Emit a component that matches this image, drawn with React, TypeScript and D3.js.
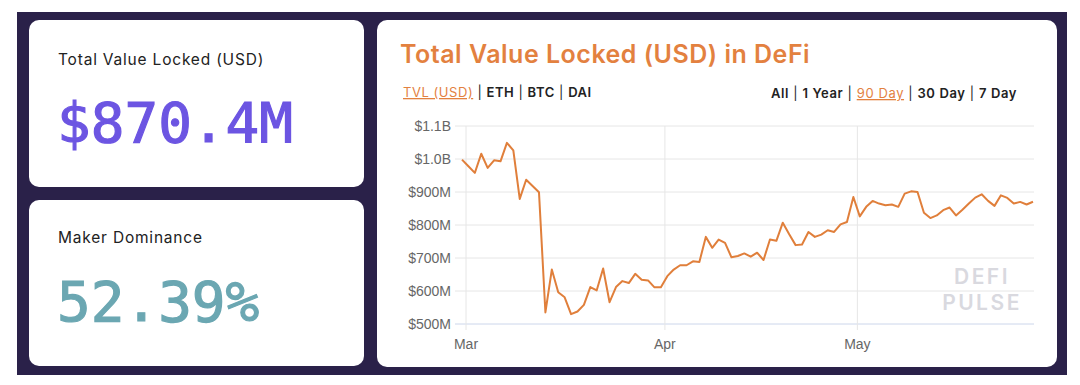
import React from 'react';
import * as d3 from 'd3';

// daily TVL in $M, 90 day view (late Feb -> late May 2020)
const firstDay = new Date(2020, 1, 29, 9);
const tvlValues = [
  998, 978, 958, 1016, 973, 996, 993, 1049, 1026, 879,
  937, 918, 899, 535, 665, 596, 581, 530, 538, 558,
  612, 602, 668, 566, 612, 630, 624, 652, 634, 632,
  611, 611, 645, 665, 678, 678, 690, 688, 764, 731,
  756, 746, 702, 706, 714, 704, 716, 694, 756, 752,
  807, 772, 739, 741, 779, 764, 771, 784, 779, 802,
  809, 885, 826, 855, 873, 865, 860, 862, 855, 895,
  902, 900, 837, 821, 829, 845, 853, 829, 846, 865,
  883, 893, 873, 858, 890, 882, 865, 870, 862, 870.4,
];
const yTicks = [500, 600, 700, 800, 900, 1000, 1100];
const monthTicks = [new Date(2020, 2, 1), new Date(2020, 3, 1), new Date(2020, 4, 1)];
const assetTabs = ['TVL (USD)', 'ETH', 'BTC', 'DAI'];
const rangeTabs = ['All', '1 Year', '90 Day', '30 Day', '7 Day'];
const activeAsset = 'TVL (USD)';
const activeRange = '90 Day';
const tvlHeadline = '$870.4M';
const makerDominance = '52.39%';

const ORANGE = '#e3813f';
const SANS = 'Inter, "Open Sans", sans-serif';
const MONO = '"DejaVu Sans Mono", monospace';
const AXIS_FONT = '"Liberation Sans", Arial, sans-serif';

export default function App() {
  const days = tvlValues.map((_, i) => d3.timeDay.offset(firstDay, i));
  const points = days.map((d, i) => ({ date: d, value: tvlValues[i] }));

  // plot area
  const left = 455, right = 1034, top = 126, bottom = 324;
  const x = d3.scaleTime()
    .domain([days[0], days[days.length - 1]])
    .range([462, 1033]);
  const y = d3.scaleLinear().domain([500, 1100]).range([bottom, top]);

  const line = d3.line<{ date: Date; value: number }>()
    .x(d => x(d.date))
    .y(d => y(d.value));

  const fmtY = (v: number) => (v >= 1000 ? '$' + d3.format('.1f')(v / 1000) + 'B' : '$' + v + 'M');
  const fmtMonth = d3.timeFormat('%b');

  const tabs = (items: string[], active: string) =>
    items.map((t, i) => (
      <React.Fragment key={t}>
        {i > 0 && <tspan fill="#222">{' | '}</tspan>}
        <tspan
          fill={t === active ? ORANGE : '#222'}
          fontWeight={t === active ? 400 : 600}
          style={t === active ? { textDecoration: 'underline' } : undefined}
        >
          {t}
        </tspan>
      </React.Fragment>
    ));

  return (
    <svg width={1080} height={385} style={{ position: 'absolute', left: 0, top: 0 }}>
      <rect width={1080} height={385} fill="#fff" />
      <rect x={17} y={12} width={1050} height={363} fill="#2a2149" />

      {/* left cards */}
      <rect x={29} y={20} width={335} height={167} rx={10} fill="#fff" />
      <rect x={29} y={200} width={335} height={166} rx={10} fill="#fff" />
      <text x={58} y={65} fontFamily={SANS} fontSize={15.5} letterSpacing={0.8} fill="#222">Total Value Locked (USD)</text>
      <text x={57} y={142} fontFamily={MONO} fontSize={56} fill="#6c55e2" stroke="#6c55e2" strokeWidth={1.2}>{tvlHeadline}</text>
      <text x={58} y={243} fontFamily={SANS} fontSize={15.5} letterSpacing={0.8} fill="#222">Maker Dominance</text>
      <text x={57} y={321} fontFamily={MONO} fontSize={56} fill="#6ba7b2" stroke="#6ba7b2" strokeWidth={1.2}>{makerDominance}</text>

      {/* chart card */}
      <rect x={377} y={20} width={680} height={347} rx={10} fill="#fff" />
      <text x={400} y={63} fontFamily={SANS} fontWeight={600} fontSize={25} letterSpacing={0.5} fill={ORANGE}>
        Total Value Locked (USD) in DeFi
      </text>
      <text x={403} y={97} fontFamily={SANS} fontSize={13} letterSpacing={0.55}>
        {tabs(assetTabs, activeAsset)}
      </text>
      <text x={1017} y={98} textAnchor="end" fontFamily={SANS} fontSize={13} letterSpacing={0.6}>
        {tabs(rangeTabs, activeRange)}
      </text>

      {/* grid */}
      {yTicks.map(t => (
        <g key={t}>
          <line x1={left} x2={right} y1={y(t)} y2={y(t)} stroke={t === 500 ? '#ccd6eb' : '#e6e6e6'} />
          <text x={451} y={y(t)} dy="0.35em" textAnchor="end" fontFamily={AXIS_FONT} fontSize={14} fill="#666">
            {fmtY(t)}
          </text>
        </g>
      ))}
      {monthTicks.map(m => (
        <g key={m.getTime()}>
          <line x1={x(m)} x2={x(m)} y1={top} y2={bottom + 6} stroke="#e6e6e6" />
          <text x={x(m)} y={349} textAnchor="middle" fontFamily={AXIS_FONT} fontSize={14} fill="#666">
            {fmtMonth(m)}
          </text>
        </g>
      ))}

      {/* watermark */}
      <text x={982} y={284} textAnchor="middle" fontFamily={SANS} fontWeight={600} fontSize={21} letterSpacing={2.5} fill="#d9d9df">DEFI</text>
      <text x={982} y={310} textAnchor="middle" fontFamily={SANS} fontWeight={600} fontSize={21} letterSpacing={2.5} fill="#d9d9df">PULSE</text>

      <path d={line(points) ?? ''} fill="none" stroke="#e07f3b" strokeWidth={2} strokeLinejoin="round" />
    </svg>
  );
}
